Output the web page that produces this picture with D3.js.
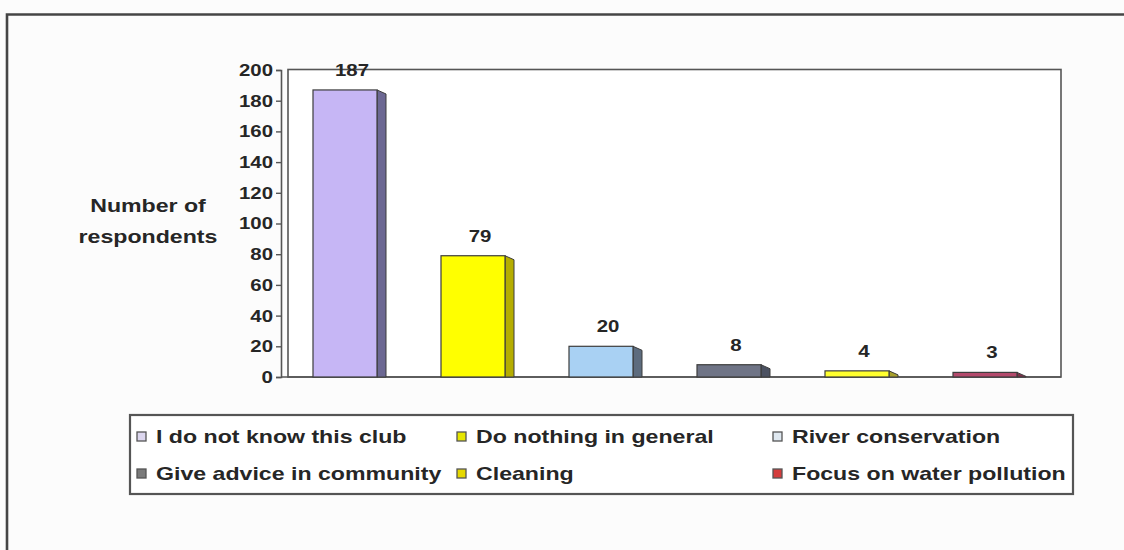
<!DOCTYPE html>
<html>
<head>
<meta charset="utf-8">
<script src="https://cdn.jsdelivr.net/npm/d3@7/dist/d3.min.js"></script>
<style>
  html, body { margin: 0; padding: 0; background: #ffffff; }
  svg { display: block; font-family: "Liberation Sans", Arial, sans-serif; }
</style>
</head>
<body>
<svg id="chart" width="1124" height="550"></svg>
<script>
// Club activities as known by respondents
const categories = [
  "I do not know this club",
  "Do nothing in general",
  "River conservation",
  "Give advice in community",
  "Cleaning",
  "Focus on water pollution"
];
const values = [187, 79, 20, 8, 4, 3];
const yTicks = [0, 20, 40, 60, 80, 100, 120, 140, 160, 180, 200];
const axisTitle = ["Number of", "respondents"];

// fills for the front and side faces of each column
const frontColors = ["#c6b6f5", "#ffff00", "#a9d1f3", "#6f7486", "#ffff2e", "#b34a6c"];
const sideColors  = ["#6c6893", "#b5ad00", "#5d6c7e", "#4b5161", "#a8a02c", "#7c3049"];
const legendColors = ["#dcd6ee", "#e6e600", "#dfe8f0", "#7a7a7a", "#e6d800", "#d43c3c"];

const svg = d3.select("#chart");
const INK = "#262626";

// wide lettering used throughout
function widen(sel, s) {
  sel.each(function () {
    const w = this.getComputedTextLength();
    this.setAttribute("textLength", (w * s).toFixed(1));
    this.setAttribute("lengthAdjust", "spacingAndGlyphs");
  });
}

svg.append("rect").attr("width", 1124).attr("height", 550).attr("fill", "#fcfcfc");

// outer frame of the figure
svg.append("path")
  .attr("d", "M7,552 L7,14.5 L1130,14.5")
  .attr("fill", "none").attr("stroke", "#454545").attr("stroke-width", 2.6);

const x = d3.scaleBand().domain(categories).range([281, 1049])
  .paddingInner(0.5).paddingOuter(0.25);
const y = d3.scaleLinear().domain([0, 200]).range([377, 70]);

const depthX = 9, depthY = 4;

// back wall of the plot
svg.append("rect")
  .attr("x", 288).attr("y", y(200) - 0.5)
  .attr("width", 1061 - 288).attr("height", y(0) - y(200) + 0.5)
  .attr("fill", "#ffffff").attr("stroke", "#555").attr("stroke-width", 1.6);

// value axis
const yAxis = svg.append("g")
  .attr("transform", "translate(281,0)")
  .call(d3.axisLeft(y).tickValues(yTicks).tickSize(5).tickPadding(3));
yAxis.select(".domain").attr("stroke", "#555").attr("stroke-width", 1.6);
yAxis.selectAll(".tick line").attr("stroke", "#555").attr("stroke-width", 1.4);
yAxis.selectAll(".tick text")
  .attr("fill", INK).attr("font-size", 17).attr("font-weight", "bold")
  .attr("font-family", "Liberation Sans, Arial, sans-serif")
  .call(widen, 1.2);

// floor edge
svg.append("line")
  .attr("x1", 281).attr("x2", 1061).attr("y1", y(0)).attr("y2", y(0))
  .attr("stroke", "#555").attr("stroke-width", 1.6);

// axis title
svg.append("g").selectAll("text").data(axisTitle).join("text")
  .attr("x", 148).attr("y", (d, i) => 212 + i * 31)
  .attr("text-anchor", "middle")
  .attr("font-size", 18.5).attr("font-weight", "bold").attr("fill", INK)
  .text(d => d)
  .call(widen, 1.25);

// columns: side face then front face
const bars = svg.append("g").selectAll("g").data(values).join("g");

bars.append("path")
  .attr("d", (d, i) => {
    const x1 = x(categories[i]) + x.bandwidth();
    const top = y(d), base = y(0);
    return `M${x1},${top} L${x1 + depthX},${top + depthY} L${x1 + depthX},${base} L${x1},${base} Z`;
  })
  .attr("fill", (d, i) => sideColors[i])
  .attr("stroke", "#3d3d3d").attr("stroke-width", 1);

bars.append("rect")
  .attr("x", (d, i) => x(categories[i]))
  .attr("y", d => y(d))
  .attr("width", x.bandwidth())
  .attr("height", d => y(0) - y(d))
  .attr("fill", (d, i) => frontColors[i])
  .attr("stroke", "#3d3d3d").attr("stroke-width", 1.2);

// value labels
bars.append("text")
  .attr("x", (d, i) => x(categories[i]) + x.bandwidth() / 2 + 7)
  .attr("y", d => y(d) - 14)
  .attr("text-anchor", "middle")
  .attr("font-size", 17).attr("font-weight", "bold").attr("fill", INK)
  .text(d => d)
  .call(widen, 1.2);

// legend
const legend = svg.append("g");
legend.append("rect")
  .attr("x", 130).attr("y", 415).attr("width", 943).attr("height", 79)
  .attr("fill", "#ffffff").attr("stroke", "#555").attr("stroke-width", 2.2);

const colX = [137, 457, 773];
const rowY = [443, 480];
const items = legend.selectAll("g").data(categories).join("g")
  .attr("transform", (d, i) => `translate(${colX[i % 3]},${rowY[Math.floor(i / 3)]})`);
items.append("rect")
  .attr("x", 0).attr("y", -11).attr("width", 9).attr("height", 9)
  .attr("fill", (d, i) => legendColors[i])
  .attr("stroke", "#555").attr("stroke-width", 1.3);
items.append("text")
  .attr("x", 19).attr("y", 0)
  .attr("font-size", 18.5).attr("font-weight", "bold").attr("fill", INK)
  .text(d => d)
  .call(widen, 1.25);
</script>
</body>
</html>
